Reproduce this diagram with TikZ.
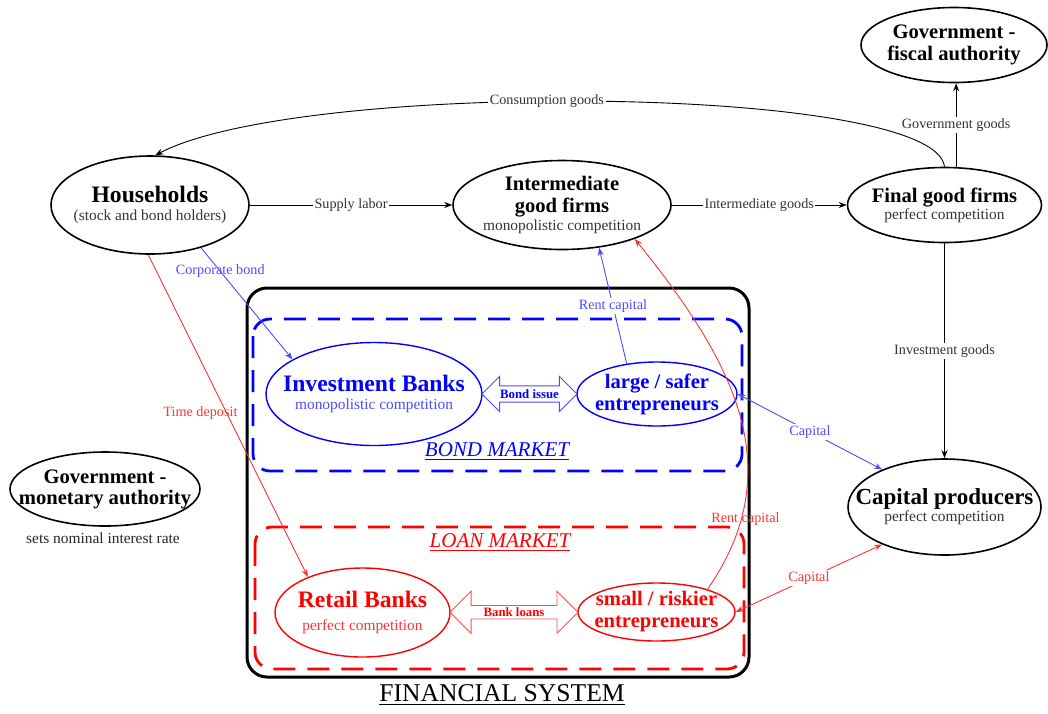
\documentclass[tikz,border=0pt]{standalone}
\usepackage{fontspec}
\setmainfont{Liberation Serif}
\usetikzlibrary{shapes.geometric,shapes.arrows,arrows.meta,calc}
\newcommand\bigttl{\fontsize{11.8}{13}\selectfont\bfseries}
\newcommand\ttlf{\fontsize{10.3}{11}\selectfont\bfseries}
\newcommand\subf{\fontsize{7.7}{9}\selectfont\mdseries}
\newcommand\lblf{\fontsize{7.1}{8}\selectfont}
\begin{document}
\begin{tikzpicture}[x=0.5pt,y=-0.5pt,
  >={Stealth[length=4pt,width=3pt]},
  ell/.style={ellipse, draw, line width=0.8pt, inner xsep=-15pt, inner ysep=-4pt, align=center, font=\fontsize{10.3}{11}\selectfont},
  bell/.style={ell, draw=blue, line width=0.7pt, text=blue},
  rell/.style={ell, draw=red, line width=0.7pt, text=red},
  lbl/.style={font=\lblf, text=black!80, fill=white, inner sep=0.8pt},
  blbl/.style={lbl, text=blue!70},
  rlbl/.style={lbl, text=red!80},
  con/.style={line width=0.45pt, ->},
  bcon/.style={con, draw=blue!70},
  rcon/.style={con, draw=red!80},
  mkt/.style={font=\fontsize{10.5}{12}\selectfont\itshape},
  darr/.style={double arrow, fill=white, line width=0.4pt, inner xsep=0pt, minimum width=0pt, font=\fontsize{6.4}{7}\selectfont\bfseries}
]
\useasboundingbox (0,0) rectangle (1048,713);

% boxes
\draw[line width=1.5pt, rounded corners=10pt] (247,288) rectangle (749,677);
\draw[blue, line width=1.4pt, dash pattern=on 11pt off 6pt, rounded corners=8.5pt] (253,319) rectangle (742,471);
\draw[red, line width=1.4pt, dash pattern=on 11pt off 6pt, rounded corners=8.5pt] (255,527) rectangle (744,669);

% nodes
\node[ell, minimum width=99pt, minimum height=49pt] (hh) at (150,205)
  {{\bigttl Households}\\[-2.3pt]{\subf\color{black!80}(stock and bond holders)}};
\node[ell, minimum width=109pt, minimum height=44.5pt] (igf) at (562,205)
  {{\ttlf Intermediate}\\{\ttlf good firms}\\[-2.4pt]{\subf\color{black!80}monopolistic competition}};
\node[ell, minimum width=97pt, minimum height=37.5pt] (fgf) at (944.5,205)
  {{\ttlf Final good firms}\\[-2.6pt]{\subf\color{black!80}perfect competition}};
\node[ell, minimum width=93pt, minimum height=37.5pt] (gfa) at (954,45)
  {{\ttlf Government -}\\{\ttlf fiscal authority}};
\node[ell, minimum width=96.5pt, minimum height=48pt] (cp) at (944.5,507)
  {{\fontsize{11.5}{13}\selectfont\bfseries Capital producers}\\[-2.5pt]{\subf\color{black!80}perfect competition}};
\node[ell, minimum width=95pt, minimum height=37pt] (gma) at (105,489)
  {{\ttlf Government -}\\[-0.5pt]{\ttlf monetary authority}};
\node[font=\subf, text=black!85] (gmanote) at (103,538) {sets nominal interest rate};

\node[bell, minimum width=108pt, minimum height=51.5pt] (ib) at (374,394)
  {{\bigttl Investment Banks}\\[-2.3pt]{\subf\color{blue!70}monopolistic competition}};
\node[bell, minimum width=80pt, minimum height=32pt] (lse) at (657,394)
  {{\ttlf large / safer}\\{\ttlf entrepreneurs}};
\node[rell, minimum width=87.5pt, minimum height=44.5pt] (rb) at (362.5,612.5)
  {{\bigttl Retail Banks}\\[0.2pt]{\subf\color{red!80}perfect competition}};
\node[rell, minimum width=78.5pt, minimum height=29pt] (sre) at (656.5,612)
  {{\ttlf small / riskier}\\{\ttlf entrepreneurs}};

\node[darr, draw=blue!70, text=blue, inner ysep=1.6pt, minimum height=47.5pt, double arrow head extend=4.75pt]
  (bi) at ($(ib.east)!0.5!(lse.west)$) {Bond issue};
\node[darr, draw=red!70, text=red, inner ysep=0.9pt, minimum height=64pt, double arrow head extend=7.2pt]
  (bl) at ($(rb.east)!0.5!(sre.west)$) {Bank loans};

\node[mkt, text=blue] (bm) at (497,452) {\underline{BOND MARKET}};
\node[mkt, text=red] (lm) at (500,543) {\underline{LOAN MARKET}};
\node[font=\fontsize{12.8}{14}\selectfont] (fs) at (502,695) {\underline{FINANCIAL SYSTEM}};

% black connectors
\draw[con] (hh.east) -- node[lbl]{Supply labor} (igf.west);
\draw[con] (igf.east) -- node[lbl]{Intermediate goods} (fgf.west);
\draw[con] (fgf.73) -- node[lbl]{Government goods} (fgf.73 |- gfa.south);
\draw[con] (fgf.north) .. controls +(-9.5,-82.5) and +(145,-76) .. node[lbl,pos=0.55]{Consumption goods} (hh.84);
\draw[con] (fgf.south) -- node[lbl]{Investment goods} (cp.north);

% blue connectors
\draw[bcon] (hh.-40) -- node[pos=0.21, blbl, fill=none]{Corporate bond} (ib.157);
\draw[bcon] (lse.135) -- node[blbl]{Rent capital} (igf.-49);
\draw[bcon, <->] (lse.east) -- node[blbl]{Capital} (cp.149);

% red connectors
\draw[rcon] (hh.-92) -- node[pos=0.49, rlbl, fill=none, xshift=-13pt]{Time deposit} (rb.147);
\draw[rcon] (sre.24) .. controls +(83,-120) and +(100,124) .. node[pos=0.2, rlbl, fill=none, xshift=2pt]{Rent capital} (igf.-25);
\draw[rcon, <->] (sre.east) -- node[rlbl]{Capital} (cp.-149);
\end{tikzpicture}
\end{document}
